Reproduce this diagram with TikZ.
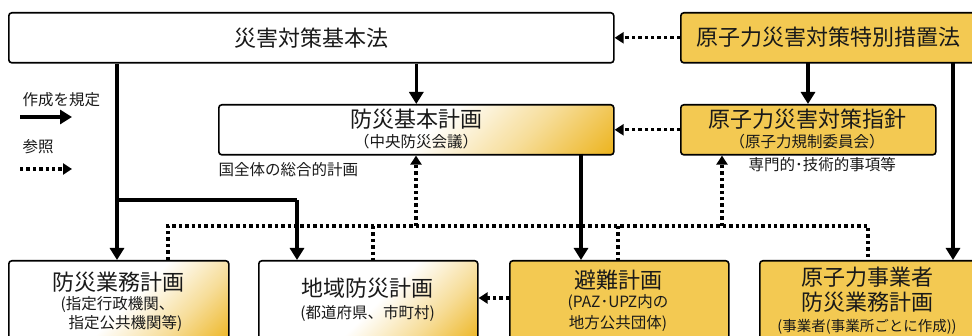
\documentclass[tikz,border=0pt]{standalone}
\usepackage{fontspec}
\setmainfont{Noto Sans CJK JP}
\usetikzlibrary{arrows.meta,calc}
\definecolor{nucyellow}{RGB}{243,201,82}
\definecolor{deepgold}{RGB}{236,178,24}
\definecolor{txt}{RGB}{25,25,25}
\pgfdeclarehorizontalshading{goldfade}{100bp}{color(0bp)=(white); color(52bp)=(white); color(69bp)=(deepgold!45); color(86bp)=(deepgold); color(100bp)=(deepgold)}
\tikzset{
  box/.style={draw=black, line width=1.6pt, rounded corners=3pt, inner sep=0pt, anchor=north west, text=txt},
  plainbox/.style={box, fill=white},
  fadebox/.style={box, shading=goldfade, shading angle=-45},
  nucbox/.style={box, fill=nucyellow},
  big/.style={font=\fontsize{22}{25}\selectfont, text=txt},
  small/.style={font=\fontsize{15.5}{18}\selectfont, text=txt, align=center},
  smaller/.style={font=\fontsize{14.5}{17}\selectfont, text=txt, align=center},
  makes/.style={line width=3.4pt, -{Triangle[width=14pt,length=12pt]}},
  makesline/.style={line width=3.4pt},
  refer/.style={line width=3.4pt, dash pattern=on 3.4pt off 3pt, -{Triangle[width=11pt,length=9pt]}},
  referline/.style={line width=3.4pt, dash pattern=on 3.4pt off 3pt},
}
\begin{document}
\begin{tikzpicture}[x=1pt,y=-1pt]
\useasboundingbox (0,0) rectangle (972,336);

% top row
\node[plainbox, minimum width=605pt, minimum height=50pt, big] (kihon) at (8,12) {災害対策基本法};
\node[nucbox, minimum width=300pt, minimum height=50pt] (toku) at (680,12) {};
\node[big, anchor=center] (tokut) at (828,37) {原子力災害対策特別措置法};

% middle row
\node[fadebox, minimum width=395pt, minimum height=50pt] (bousai) at (218,104) {};
\node[big, anchor=center] (bousait) at (416,119) {防災基本計画};
\node[small, anchor=center] (bousais) at (416,142) {（中央防災会議）};
\node[nucbox, minimum width=255pt, minimum height=50pt] (shishin) at (680,104) {};
\node[big, anchor=center] (shishint) at (807,119) {原子力災害対策指針};
\node[small, anchor=center] (shishins) at (807,142) {（原子力規制委員会）};
\node[small, anchor=west] (lab1) at (215,170) {国全体の総合的計画};
\node[small, anchor=west] (lab2) at (745,165) {専門的･技術的事項等};

% bottom row
\node[fadebox, minimum width=220pt, minimum height=84pt] (gyomu) at (8,260) {};
\node[big, anchor=center] (gyomut) at (118,282) {防災業務計画};
\node[small, anchor=west, align=left] (gyomus1) at (57,305) {(指定行政機関、};
\node[small, anchor=west, align=left] (gyomus2) at (65,323) {指定公共機関等)};

\node[fadebox, minimum width=219pt, minimum height=84pt] (chiiki) at (258,260) {};
\node[big, anchor=center] (chiikit) at (367.5,288) {地域防災計画};
\node[small, anchor=center] (chiikis) at (367.5,313) {(都道府県、市町村)};

\node[nucbox, minimum width=219pt, minimum height=92pt] (hinan) at (509,260) {};
\node[big, anchor=center] (hinant) at (618,280) {避難計画};
\node[small, anchor=center] (hinans1) at (618,303) {(PAZ･UPZ内の};
\node[small, anchor=center] (hinans2) at (618,323) {地方公共団体)};

\node[nucbox, minimum width=220pt, minimum height=92pt] (jigyo) at (759,260) {};
\node[big, anchor=center] (jigyot1) at (867,277) {原子力事業者};
\node[big, anchor=center] (jigyot2) at (867,302) {防災業務計画};
\node[smaller, anchor=center] (jigyos) at (867,327) {(事業者(事業所ごとに作成))};

% legend
\node[small, anchor=west] (leg1) at (19,100) {作成を規定};
\node[small, anchor=west] (leg2) at (19,147) {参照};
\coordinate (l1a) at (20,117);
\coordinate (l1b) at (72,117);
\coordinate (l2a) at (20,169);
\coordinate (l2b) at (72,169);
\draw[makes] (l1a) -- (l1b);
\draw[refer] (l2a) -- (l2b);

% thick "makes" connectors
\draw[makes] (bousai.north |- kihon.south) -- (bousai.north);
\coordinate (tkS2) at (808,62);
\coordinate (shN) at (808,104);
\draw[makes] (tkS2) -- (shN);
\coordinate (gyN) at (117,260);
\coordinate (br) at (117,200);
\coordinate (brR) at (297,200);
\coordinate (chN) at (297,260);
\draw[makes] (gyN |- kihon.south) -- (gyN);
\draw[makesline] (br) -- (brR);
\draw[makes] (brR) -- (chN);
\coordinate (bsS) at (581,154);
\coordinate (hiN) at (581,260);
\draw[makes] (bsS) -- (hiN);
\coordinate (tkS) at (953,62);
\coordinate (jiN) at (953,260);
\draw[makes] (tkS) -- (jiN);

% dotted "refer" connectors
\draw[refer] (toku.west) -- (kihon.east);
\draw[refer] (shishin.west) -- (bousai.east);
\draw[refer] (hinan.west |- 0,298) -- (chiiki.east |- 0,298);

\coordinate (d1) at (168,226);
\coordinate (d2) at (373,226);
\coordinate (d3) at (416,226);
\coordinate (d4) at (618,226);
\coordinate (d5) at (722,226);
\coordinate (d6) at (868,226);
\draw[referline] (d1 |- gyomu.north) -- (d1) -- (d6) -- (d6 |- jigyo.north);
\draw[referline] (d2) -- (d2 |- chiiki.north);
\draw[referline] (d4) -- (d4 |- hinan.north);
\draw[refer] (d3) -- (d3 |- bousai.south);
\draw[refer] (d5) -- (d5 |- shishin.south);
\end{tikzpicture}
\end{document}
